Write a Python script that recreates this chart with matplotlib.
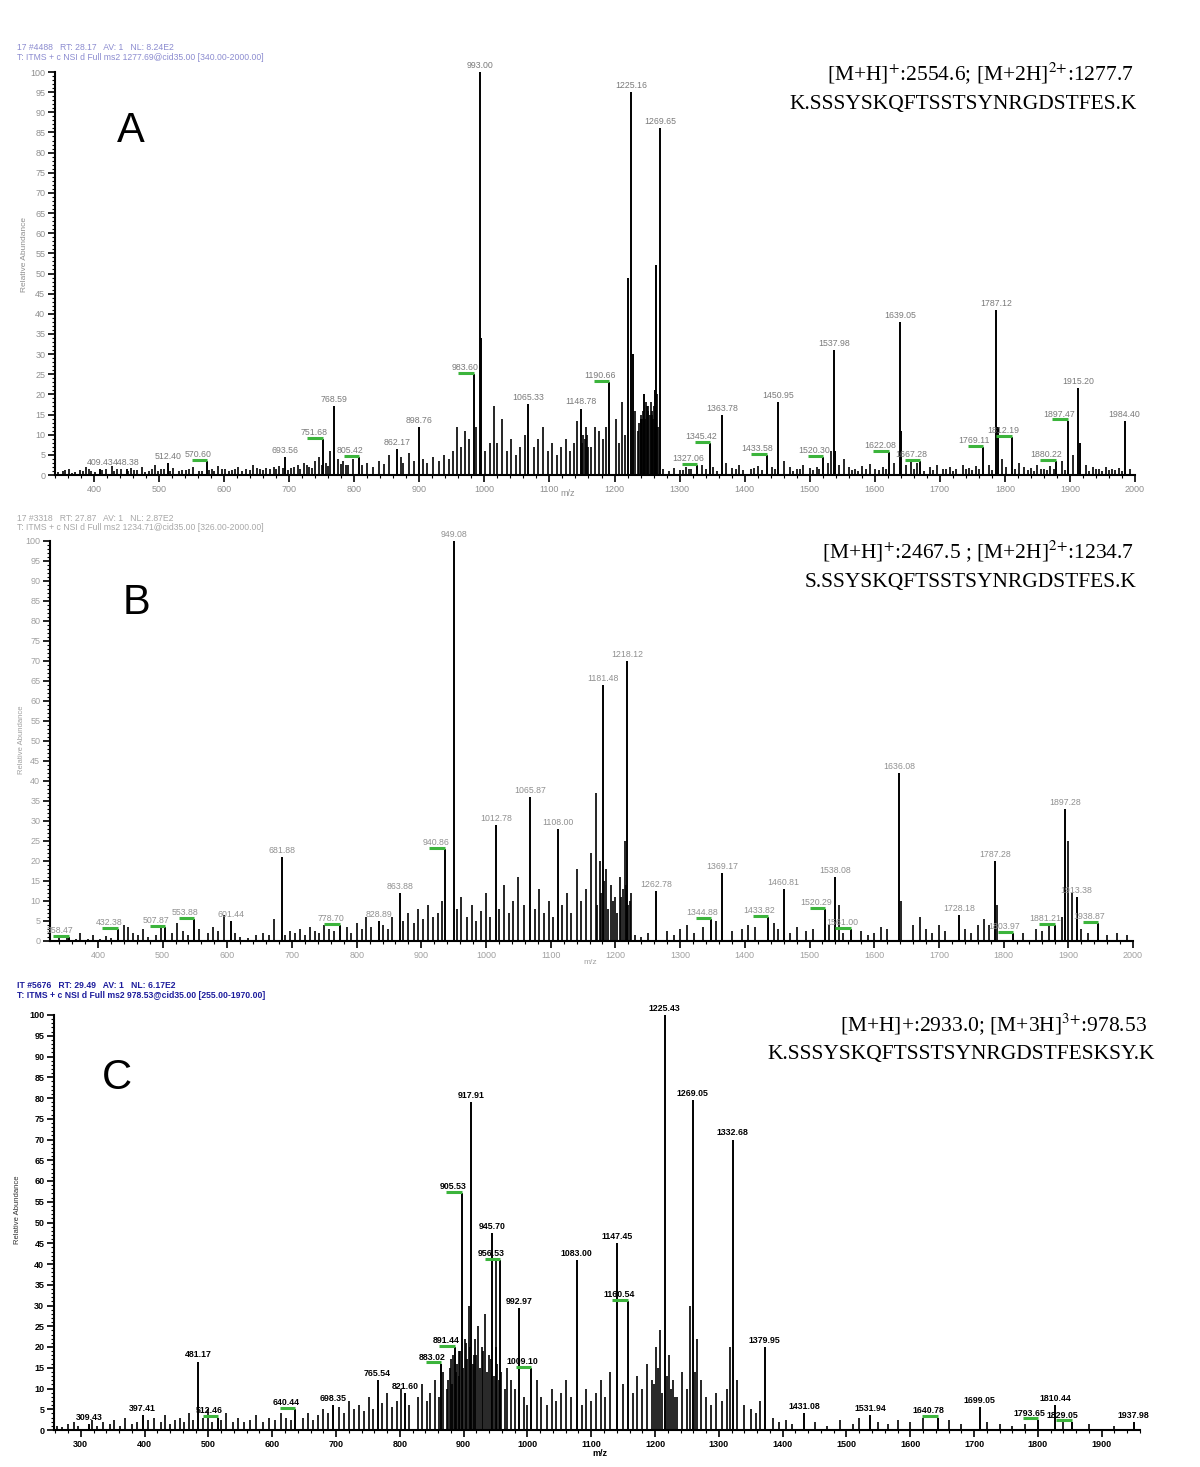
import matplotlib
matplotlib.use("Agg")
import matplotlib.pyplot as plt
from matplotlib.ticker import MultipleLocator

plt.rcParams['font.family'] = ['Liberation Sans', 'DejaVu Sans']
plt.rcParams['mathtext.fontset'] = 'stix'

# ---------------- panel A ----------------
a_mz = [409, 450, 514, 574, 693, 752, 769, 808, 866, 900, 984, 993, 1067, 1148,
        1192, 1226, 1270, 1327, 1347, 1365, 1434, 1451, 1521, 1538, 1622, 1639,
        1670, 1767, 1787, 1811, 1878, 1897, 1913, 1984]
a_int = [1.5, 1.5, 3.0, 3.5, 4.5, 9.0, 17.0, 4.5, 6.5, 12.0, 25.0, 100, 17.5, 16.5,
         23.0, 95, 86, 2.5, 8.0, 15.0, 5.0, 18.0, 4.5, 31, 5.7, 38,
         3.5, 7.0, 41, 9.5, 3.5, 13.5, 21.5, 13.5]
a_labels = ["409.43", "448.38", "512.40", "570.60", "693.56", "751.68", "768.59", "805.42",
            "862.17", "898.76", "983.60", "993.00", "1065.33", "1148.78", "1190.66",
            "1225.16", "1269.65", "1327.06", "1345.42", "1363.78", "1433.58", "1450.95",
            "1520.30", "1537.98", "1622.08", "1639.05", "1667.28", "1769.11", "1787.12",
            "1812.19", "1880.22", "1897.47", "1915.20", "1984.40"]
a_green = ["570.60", "751.68", "805.42", "983.60", "1190.66", "1327.06", "1345.42",
           "1433.58", "1520.30", "1622.08", "1667.28", "1769.11", "1812.19", "1880.22",
           "1897.47"]
a_big_mz = [995, 1221, 1228, 1240, 1246, 1262, 1264, 1640, 1789, 1916, 1538.8]
a_big_int = [34, 49, 30, 14, 20, 21, 52, 11, 12, 8, 6]
a_minor_mz = [352, 361, 371, 379, 388, 396, 418, 427, 436, 457,
              466, 474, 485, 493, 503, 521, 530, 541, 552, 561,
              581, 590, 601, 612, 622, 633, 644, 655, 664, 676,
              685, 703, 713, 722, 731, 740, 746, 757, 763, 775,
              783, 791, 798, 812, 820, 829, 838, 846, 853, 872,
              875, 884, 892, 905, 912, 921, 930, 938, 946, 952,
              958, 964, 970, 976, 987, 1001, 1008, 1014, 1020, 1027,
              1034, 1041, 1048, 1055, 1062, 1076, 1083, 1090, 1097, 1104,
              1111, 1118, 1125, 1132, 1138, 1143, 1158, 1164, 1170, 1176,
              1182, 1187, 1202, 1207, 1212, 1216, 1231, 1236, 1243, 1250,
              1252, 1256, 1258, 1275, 1283, 1291, 1300, 1310, 1318, 1335,
              1352, 1372, 1381, 1392, 1410, 1420, 1442, 1460, 1470, 1480,
              1490, 1500, 1511, 1528, 1532, 1545, 1552, 1560, 1570, 1580,
              1592, 1601, 1612, 1630, 1648, 1655, 1665, 1685, 1695, 1705,
              1715, 1725, 1735, 1745, 1755, 1775, 1795, 1802, 1822, 1830,
              1840, 1850, 1860, 1870, 1888, 1905, 1925, 1935, 1945, 1955,
              1965, 1975, 1992, 1238, 1241, 1244, 1247, 1249, 1251, 1254,
              1257, 1259, 1261, 1265, 1267, 1150, 1152, 1154, 1156, 1160,
              345, 356, 366, 383, 392, 402, 413, 431, 441, 452,
              462, 479, 489, 498, 508, 517, 535, 546, 566, 576,
              585, 596, 607, 617, 628, 639, 650, 660, 670, 680,
              690, 698, 708, 717, 727, 735, 750, 760, 779, 787,
              1305, 1315, 1340, 1357, 1386, 1398, 1415, 1426, 1447, 1475,
              1485, 1505, 1515, 1565, 1575, 1587, 1606, 1617, 1660, 1675,
              1690, 1710, 1720, 1740, 1750, 1760, 1780, 1815, 1835, 1845,
              1855, 1865, 1875, 1893, 1930, 1940, 1950, 1960, 1970, 1980]
a_minor_int = [1.0, 1.5, 0.8, 1.2, 2.0, 1.0, 1.6, 2.2, 1.4, 1.8,
               1.2, 2.0, 1.0, 2.4, 1.5, 1.8, 1.0, 1.3, 2.0, 1.1,
               1.5, 2.2, 1.6, 1.2, 2.0, 1.4, 2.5, 1.5, 1.8, 2.0,
               2.2, 1.8, 2.5, 3.0, 2.0, 3.5, 4.5, 3.0, 6.0, 4.0,
               3.5, 2.5, 4.0, 2.5, 3.0, 2.0, 3.5, 2.8, 5.0, 4.5,
               3.0, 5.5, 3.5, 4.0, 3.0, 4.5, 3.5, 5.0, 4.0, 6.0,
               12.0, 7.0, 11.0, 9.0, 12.0, 6.0, 8.0, 17.0, 8.0, 14.0,
               6.0, 9.0, 5.0, 7.0, 10.0, 7.0, 9.0, 12.0, 6.0, 8.0,
               5.0, 7.0, 9.0, 6.0, 8.0, 13.5, 10.0, 7.0, 12.0, 11.0,
               9.0, 12.0, 14.0, 8.0, 18.0, 10.0, 16.0, 11.0, 14.0, 17.0,
               16.0, 18.0, 15.0, 1.5, 1.0, 1.8, 1.2, 2.0, 1.5, 2.5,
               2.0, 3.0, 1.8, 2.5, 1.5, 2.2, 2.0, 3.5, 2.0, 1.5,
               2.5, 1.8, 2.0, 3.0, 6.0, 2.5, 4.0, 2.0, 1.5, 2.2,
               2.8, 1.6, 2.0, 3.0, 2.5, 4.0, 3.0, 2.0, 2.5, 1.6,
               2.0, 1.5, 2.5, 1.8, 2.2, 2.5, 4.0, 2.0, 3.0, 2.0,
               1.8, 2.5, 1.6, 2.2, 3.5, 5.0, 2.5, 2.0, 1.5, 2.0,
               1.6, 1.8, 1.5, 13.0, 15.0, 16.0, 14.0, 18.0, 17.0, 15.0,
               16.0, 14.0, 17.0, 20.0, 12.0, 8.0, 10.0, 9.0, 12.0, 7.0,
               0.8, 1.2, 0.6, 1.0, 1.4, 0.8, 1.2, 0.9, 1.5, 1.0,
               1.3, 0.8, 1.6, 1.1, 1.4, 1.0, 1.2, 1.5, 0.9, 1.3,
               1.0, 1.4, 1.1, 1.6, 1.0, 1.3, 1.7, 1.2, 1.5, 1.4,
               1.8, 1.3, 2.0, 1.6, 2.4, 1.8, 2.5, 2.2, 2.8, 2.4,
               1.2, 1.6, 1.4, 1.0, 1.5, 1.2, 1.8, 1.3, 1.5, 1.1,
               1.4, 1.2, 1.6, 1.3, 1.0, 1.5, 1.2, 1.4, 1.6, 1.1,
               1.3, 1.5, 1.0, 1.4, 1.2, 1.6, 1.3, 1.5, 1.2, 1.0,
               1.4, 1.2, 1.6, 1.3, 1.1, 1.4, 1.0, 1.3, 1.2, 1.0]

# ---------------- panel B ----------------
b_mz = [355, 431, 504, 549, 606, 685, 774, 834, 867, 936, 951, 1015, 1068, 1111,
        1181, 1218, 1263, 1348, 1365, 1436, 1460, 1524, 1539, 1564, 1638, 1731,
        1787, 1815, 1879, 1895, 1913, 1946]
b_int = [1.0, 3.0, 3.5, 5.5, 5.0, 21, 4.0, 5.0, 12, 23, 100, 29, 36, 28,
         64, 70, 12.5, 5.5, 17, 6.0, 13, 8.0, 16, 3.0, 42, 6.5,
         20, 2.0, 4.0, 33, 11, 4.5]
b_labels = ["358.47", "432.38", "507.87", "553.88", "601.44", "681.88", "778.70",
            "828.89", "863.88", "940.86", "949.08", "1012.78", "1065.87", "1108.00",
            "1181.48", "1218.12", "1262.78", "1344.88", "1369.17", "1433.82", "1460.81",
            "1520.29", "1538.08", "1561.00", "1636.08", "1728.18", "1787.28", "1803.97",
            "1881.21", "1897.28", "1913.38", "1938.87"]
b_green = ["358.47", "432.38", "507.87", "553.88", "778.70", "940.86", "1344.88",
           "1433.82", "1520.29", "1561.00", "1803.97", "1881.21", "1938.87"]
b_minor_mz = [340, 352, 366, 372, 385, 393, 404, 412, 420, 440,
              447, 455, 462, 470, 478, 490, 498, 515, 523, 531,
              540, 556, 570, 578, 585, 595, 612, 620, 632, 645,
              655, 665, 672, 690, 697, 705, 712, 720, 728, 735,
              742, 750, 758, 765, 785, 792, 800, 808, 815, 822,
              840, 848, 855, 872, 880, 888, 895, 902, 910, 918,
              925, 932, 955, 962, 970, 978, 985, 992, 1000, 1006,
              1020, 1028, 1035, 1042, 1050, 1058, 1075, 1082, 1090, 1097,
              1104, 1118, 1125, 1132, 1140, 1147, 1155, 1162, 1170, 1176,
              1186, 1193, 1200, 1207, 1212, 1215, 1222, 1230, 1240, 1250,
              1280, 1290, 1300, 1310, 1322, 1335, 1355, 1380, 1395, 1405,
              1415, 1445, 1452, 1470, 1480, 1495, 1505, 1530, 1545, 1552,
              1580, 1590, 1600, 1610, 1620, 1642, 1660, 1670, 1680, 1690,
              1700, 1710, 1740, 1750, 1760, 1770, 1778, 1790, 1830, 1850,
              1860, 1870, 1890, 1900, 1905, 1920, 1930, 1960, 1975, 1990,
              1172, 1178, 1183, 1189, 1196, 1203, 1209, 1217, 1220, 1224]
b_minor_int = [0.8, 1.0, 0.5, 2.0, 0.6, 1.5, 0.5, 1.2, 0.8, 4.0,
               3.5, 2.0, 1.5, 3.0, 1.0, 1.5, 4.0, 2.0, 4.5, 2.5,
               1.5, 3.0, 2.0, 3.5, 2.5, 6.5, 2.0, 1.0, 0.8, 1.5,
               2.0, 1.5, 5.5, 1.5, 2.5, 2.0, 3.0, 1.5, 3.5, 2.5,
               2.0, 4.0, 3.0, 2.5, 3.5, 2.0, 4.5, 3.0, 6.0, 3.5,
               4.0, 3.0, 6.0, 5.0, 7.0, 4.5, 8.0, 5.5, 9.0, 6.0,
               7.0, 10.0, 8.0, 11.0, 6.0, 9.0, 5.0, 7.5, 12.0, 6.0,
               8.0, 14.0, 7.0, 10.0, 16.0, 9.0, 8.0, 13.0, 7.0, 10.0,
               6.0, 9.0, 12.0, 7.0, 18.0, 10.0, 13.0, 22.0, 37.0, 20.0,
               18.0, 14.0, 11.0, 16.0, 13.0, 25.0, 10.0, 1.5, 1.0, 2.0,
               2.5, 1.5, 3.0, 4.0, 2.0, 3.5, 5.0, 2.5, 3.0, 4.0,
               3.5, 4.5, 3.0, 2.0, 3.5, 2.5, 3.0, 4.0, 9.0, 2.0,
               2.5, 1.5, 2.0, 3.5, 3.0, 10.0, 4.0, 6.0, 3.0, 2.0,
               4.0, 2.5, 3.0, 2.0, 4.0, 5.5, 4.0, 9.0, 2.0, 3.0,
               2.5, 4.0, 6.0, 25.0, 12.0, 3.0, 2.0, 1.5, 2.0, 1.5,
               9.0, 12.0, 15.0, 8.0, 10.0, 7.0, 11.0, 14.0, 9.0, 12.0]

# ---------------- panel C ----------------
c_mz = [313, 397, 484, 515, 636, 695, 765, 808, 865, 886, 897, 912, 945, 957,
        987, 1006, 1077, 1140, 1157, 1215, 1259, 1322, 1372, 1434, 1537, 1643,
        1709, 1800, 1827, 1853, 1950]
c_int = [1.5, 3.5, 16.5, 3.0, 5.0, 6.0, 12.0, 9.0, 16.0, 20.0, 57.0, 79.0, 47.5, 41.0,
         29.5, 15.0, 41.0, 45.0, 31.0, 100, 79.5, 70.0, 20.0, 4.0, 3.5, 3.0,
         5.5, 2.5, 6.0, 2.0, 2.0]
c_labels = ["309.43", "397.41", "481.17", "512.46", "640.44", "698.35", "765.54",
            "821.60", "883.02", "891.44", "905.53", "917.91", "945.70", "956.53",
            "992.97", "1009.10", "1083.00", "1147.45", "1160.54", "1225.43", "1269.05",
            "1332.68", "1379.95", "1431.08", "1531.94", "1640.78", "1699.05", "1793.65",
            "1810.44", "1829.05", "1937.98"]
c_green = ["512.46", "640.44", "883.02", "891.44", "905.53", "956.53", "1009.10",
           "1160.54", "1640.78", "1793.65", "1829.05"]
c_minor_mz = [262, 270, 280, 290, 296, 318, 326, 335, 345, 352,
              362, 370, 380, 388, 405, 415, 425, 432, 440, 448,
              456, 462, 470, 476, 492, 500, 506, 520, 528, 538,
              546, 555, 565, 575, 585, 595, 605, 614, 622, 630,
              648, 656, 664, 672, 680, 688, 705, 712, 720, 728,
              736, 744, 752, 758, 772, 780, 788, 795, 802, 815,
              828, 835, 842, 848, 855, 862, 868, 874, 880, 892,
              893, 902, 908, 916, 922, 928, 934, 940, 950, 951,
              968, 975, 980, 995, 1000, 1015, 1022, 1030, 1038, 1045,
              1052, 1060, 1068, 1085, 1092, 1100, 1108, 1115, 1122, 1130,
              1150, 1165, 1172, 1180, 1187, 1195, 1202, 1208, 1222, 1228,
              1235, 1242, 1250, 1255, 1265, 1272, 1280, 1288, 1296, 1305,
              1312, 1318, 1328, 1340, 1350, 1358, 1365, 1385, 1395, 1405,
              1415, 1450, 1470, 1490, 1510, 1520, 1550, 1565, 1580, 1600,
              1620, 1660, 1680, 1720, 1740, 1760, 1780, 1840, 1880, 1920,
              876, 878, 882, 884, 888, 890, 895, 899, 904, 906,
              910, 914, 918, 920, 925, 931, 937, 943, 947, 953,
              955, 959, 965, 1198, 1205, 1211, 1218, 1225, 1232, 1262]
c_minor_int = [1.0, 0.8, 1.5, 2.0, 1.0, 2.5, 1.0, 2.0, 1.5, 2.5,
               1.0, 3.0, 1.5, 2.0, 2.5, 3.0, 2.0, 3.5, 1.5, 2.5,
               3.0, 2.0, 4.0, 2.5, 3.0, 5.0, 2.0, 2.5, 4.0, 2.0,
               3.0, 2.0, 2.5, 3.5, 2.0, 3.0, 2.5, 4.0, 3.0, 2.5,
               3.0, 4.0, 2.5, 3.5, 5.0, 4.0, 5.5, 4.0, 7.0, 5.0,
               6.0, 4.5, 8.0, 5.0, 6.5, 9.0, 5.5, 7.0, 10.0, 6.0,
               8.0, 11.0, 7.0, 9.0, 12.0, 8.0, 14.0, 10.0, 17.0, 13.0,
               19.0, 22.0, 30.0, 18.0, 25.0, 20.0, 28.0, 18.0, 20.0, 41.0,
               15.0, 12.0, 10.0, 8.0, 6.0, 12.0, 8.0, 6.0, 10.0, 7.0,
               9.0, 12.0, 8.0, 6.0, 10.0, 7.0, 9.0, 12.0, 8.0, 14.0,
               11.0, 9.0, 13.0, 10.0, 16.0, 12.0, 20.0, 24.0, 18.0, 12.0,
               8.0, 14.0, 10.0, 30.0, 22.0, 12.0, 8.0, 6.0, 9.0, 7.0,
               10.0, 20.0, 12.0, 6.0, 5.0, 4.0, 7.0, 3.0, 2.0, 2.5,
               1.5, 2.0, 1.0, 2.5, 1.5, 3.0, 2.0, 1.5, 2.5, 2.0,
               3.0, 2.5, 1.5, 2.0, 1.5, 1.0, 1.5, 2.0, 1.5, 1.0,
               12.0, 15.0, 11.0, 18.0, 14.0, 16.0, 19.0, 15.0, 21.0, 17.0,
               20.0, 16.0, 22.0, 18.0, 15.0, 19.0, 14.0, 17.0, 13.0, 16.0,
               12.0, 14.0, 10.0, 11.0, 15.0, 9.0, 13.0, 10.0, 8.0, 14.0]

W, H = 1200, 1467
fig = plt.figure(figsize=(12, 14.67), dpi=100)


def box(l, t, r, b):
    return [l / W, 1 - b / H, (r - l) / W, (b - t) / H]


def ftext(x, y, s, **kw):
    fig.text(x / W, 1 - y / H, s, **kw)


def draw_panel(ax, minor_mz, minor_int, mz, inten, labels, green, xlim, ticks,
               tcol, lcol, bold=False):
    ax.vlines(minor_mz, 0, minor_int, color='black', lw=1.2)
    ax.vlines(mz, 0, inten, color='black', lw=1.4)
    w = 'bold' if bold else 'normal'
    for m, v, s in zip(mz, inten, labels):
        if s in green:
            ax.plot([m - 24, m], [v + 0.3, v + 0.3], color='#3cb43c', lw=2.2,
                    solid_capstyle='butt', clip_on=False, zorder=3)
            ax.text(m - 14, v + 0.5, s, ha='center', va='bottom', fontsize=6.3,
                    color=lcol, fontweight=w)
        else:
            ax.text(m, v + 0.5, s, ha='center', va='bottom', fontsize=6.3,
                    color=lcol, fontweight=w)
    ax.set_xlim(*xlim)
    ax.set_ylim(0, 100)
    ax.set_xticks(ticks)
    ax.xaxis.set_minor_locator(MultipleLocator(20))
    ax.yaxis.set_major_locator(MultipleLocator(5))
    ax.yaxis.set_minor_locator(MultipleLocator(1))
    for sp in ['top', 'right']:
        ax.spines[sp].set_visible(False)
    for sp in ['left', 'bottom']:
        ax.spines[sp].set_linewidth(1.5)
    ax.tick_params(which='major', length=5, width=1.2, labelsize=6.5,
                   labelcolor=tcol, pad=2)
    ax.tick_params(which='minor', length=2.5, width=0.8)
    if bold:
        for t in ax.get_xticklabels() + ax.get_yticklabels():
            t.set_fontweight('bold')


grey = '#8f8f8f'

axA = fig.add_axes(box(55, 72, 1135, 475))
draw_panel(axA, a_minor_mz, a_minor_int, a_mz, a_int, a_labels, a_green,
           (340, 2000), range(400, 2001, 100), grey, '#7a7a7a')
axA.vlines(a_big_mz, 0, a_big_int, color='black', lw=1.4)

axB = fig.add_axes(box(50, 541, 1133, 941))
draw_panel(axB, b_minor_mz, b_minor_int, b_mz, b_int, b_labels, b_green,
           (326, 2000), range(400, 2001, 100), '#a0a0a0', '#909090')

axC = fig.add_axes(box(54, 1015, 1140, 1430))
draw_panel(axC, c_minor_mz, c_minor_int, c_mz, c_int, c_labels, c_green,
           (258, 1960), range(300, 1901, 100), 'black', 'black', bold=True)

# headers
hdr_a = ["17 #4488   RT: 28.17   AV: 1   NL: 8.24E2",
         "T: ITMS + c NSI d Full ms2 1277.69@cid35.00 [340.00-2000.00]"]
hdr_b = ["17 #3318   RT: 27.87   AV: 1   NL: 2.87E2",
         "T: ITMS + c NSI d Full ms2 1234.71@cid35.00 [326.00-2000.00]"]
hdr_c = ["IT #5676   RT: 29.49   AV: 1   NL: 6.17E2",
         "T: ITMS + c NSI d Full ms2 978.53@cid35.00 [255.00-1970.00]"]
for (y0, hdr, col, wt) in [(48, hdr_a, '#8c8cd0', 'normal'),
                           (518, hdr_b, '#a8a8a8', 'normal'),
                           (986, hdr_c, '#1c1c9c', 'bold')]:
    ftext(17, y0, hdr[0], fontsize=6.2, color=col, va='center', fontweight=wt)
    ftext(17, y0 + 9, hdr[1], fontsize=6.2, color=col, va='center', fontweight=wt)

# peptide annotations
serif = ['Liberation Serif', 'DejaVu Serif']
ftext(1134, 73, r"[M+H]$^{{+}}$:2554.6; [M+2H]$^{2{+}}$:1277.7", fontsize=15.5,
      ha='right', va='center', family=serif)
ftext(1137, 104, "K.SSSYSKQFTSSTSYNRGDSTFES.K", fontsize=15.5,
      ha='right', va='center', family=serif)
ftext(1134, 551, r"[M+H]$^{{+}}$:2467.5 ; [M+2H]$^{2{+}}$:1234.7", fontsize=15.5,
      ha='right', va='center', family=serif)
ftext(1137, 582, "S.SSYSKQFTSSTSYNRGDSTFES.K", fontsize=15.5,
      ha='right', va='center', family=serif)
ftext(1147, 1024, r"[M+H]+:2933.0; [M+3H]$^{3{+}}$:978.53", fontsize=15.5,
      ha='right', va='center', family=serif)
ftext(1155, 1054, "K.SSSYSKQFTSSTSYNRGDSTFESKSY.K", fontsize=15.5,
      ha='right', va='center', family=serif)

# panel letters
ftext(131, 131, "A", fontsize=30, ha='center', va='center')
ftext(136, 603, "B", fontsize=30, ha='center', va='center')
ftext(117, 1078, "C", fontsize=30, ha='center', va='center')

# axis titles
ftext(25, 255, "Relative Abundance", fontsize=6, color=grey, rotation=90,
      ha='center', va='center')
ftext(22, 740, "Relative Abundance", fontsize=5.5, color='#a0a0a0', rotation=90,
      ha='center', va='center')
ftext(18, 1210, "Relative Abundance", fontsize=5.5, color='#303030', rotation=90,
      ha='center', va='center')
ftext(568, 494, "m/z", fontsize=6.5, color=grey, ha='center', va='center')
ftext(590, 962, "m/z", fontsize=6, color='#a0a0a0', ha='center', va='center')
ftext(600, 1454, "m/z", fontsize=6.5, color='black', ha='center', va='center',
      fontweight='bold')

fig.savefig("out.png", dpi=100)
plt.close(fig)
